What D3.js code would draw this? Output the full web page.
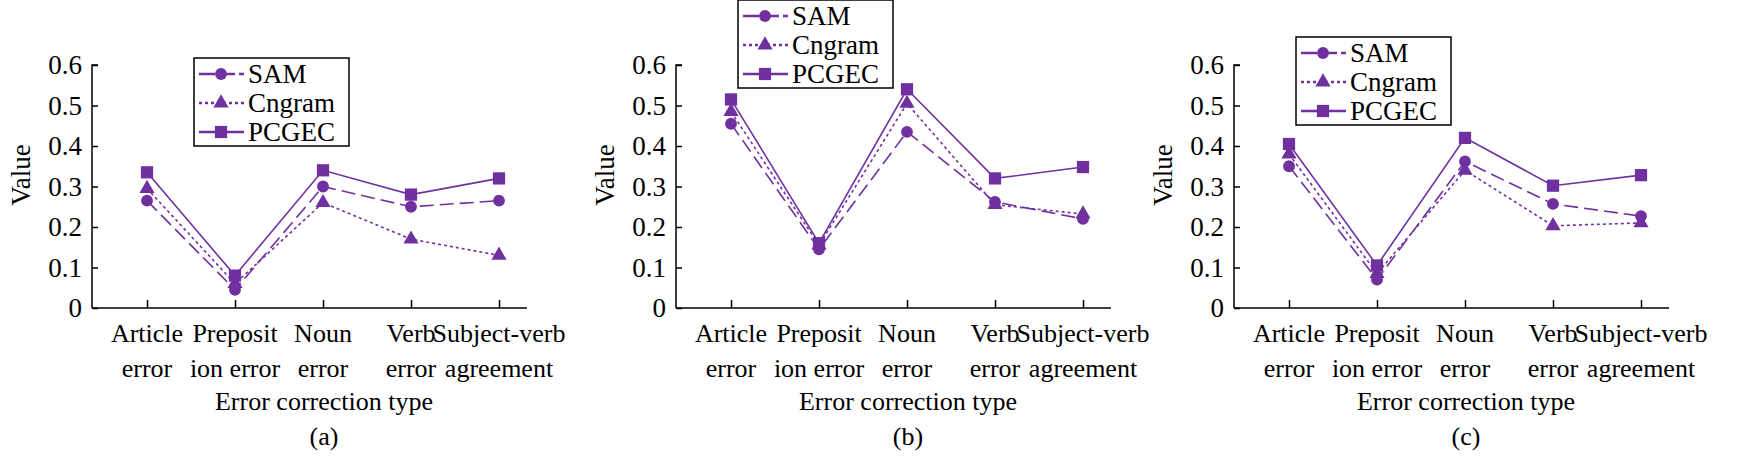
<!DOCTYPE html>
<html><head><meta charset="utf-8">
<script src="https://cdn.jsdelivr.net/npm/d3@7"></script>
<style>body{margin:0;background:#fff}text{font-family:"Liberation Serif","Times New Roman",serif;fill:#000}</style>
</head><body><svg width="1750" height="461"></svg>
<script>
// data
var categories = ['Article error', 'Preposition error', 'Noun error', 'Verb error', 'Subject-verb agreement'];
var catLines = [['Article', 'error'], ['Preposit', 'ion error'], ['Noun', 'error'], ['Verb', 'error'], ['Subject-verb', 'agreement']];
var series = ['SAM', 'Cngram', 'PCGEC'];
var yTicks = [0, 0.1, 0.2, 0.3, 0.4, 0.5, 0.6];
var panelNames = ['(a)', '(b)', '(c)'];

var samA = [0.265, 0.045, 0.30, 0.25, 0.265];
var cngramA = [0.295, 0.06, 0.26, 0.17, 0.13];
var pcgecA = [0.335, 0.08, 0.34, 0.28, 0.32];

var samB = [0.455, 0.145, 0.435, 0.262, 0.22];
var cngramB = [0.485, 0.155, 0.505, 0.255, 0.232];
var pcgecB = [0.515, 0.16, 0.54, 0.32, 0.348];

var samC = [0.35, 0.07, 0.362, 0.257, 0.227];
var cngramC = [0.38, 0.085, 0.34, 0.203, 0.21];
var pcgecC = [0.405, 0.105, 0.42, 0.302, 0.328];

var panels = [
 {name: panelNames[0], values: [samA, cngramA, pcgecA], left: 92, legend: {x: 102, y: 58}},
 {name: panelNames[1], values: [samB, cngramB, pcgecB], left: 676, legend: {x: 62, y: 0}},
 {name: panelNames[2], values: [samC, cngramC, pcgecC], left: 1234, legend: {x: 62, y: 37}}
];

var purple = '#7030a0';
var dashes = ['14,6', '3,3', null];
var symbols = [d3.symbolCircle, d3.symbolTriangle, d3.symbolSquare];
var symSizes = [110, 100, 150];

var svg = d3.select('svg');
var axisW = 435, plotTop = 65, plotBottom = 308;

var y = d3.scaleLinear().domain([0, 0.6]).range([plotBottom, plotTop]);

panels.forEach(function(p) {
 var g = svg.append('g').attr('transform', 'translate(' + p.left + ',0)');
 var x = d3.scalePoint().domain(categories).range([55, 407]);

 // y axis, ticks inside
 g.append('g')
  .call(d3.axisRight(y).tickValues(yTicks).tickSize(6).tickFormat(''))
  .call(function(s) { s.select('.domain').attr('d', 'M6,' + plotTop + 'H0V' + plotBottom); s.selectAll('line,path').attr('stroke', '#000').attr('stroke-width', 1.5); });
 g.selectAll('.ytl').data(yTicks).enter().append('text')
  .attr('x', -10).attr('y', function(d) { return y(d); }).attr('dy', '0.35em')
  .attr('text-anchor', 'end').style('font-size', '27px')
  .text(function(d) { return d === 0 ? '0' : d.toFixed(1); });

 // x axis, ticks pointing up
 g.append('g').attr('transform', 'translate(0,' + plotBottom + ')')
  .call(d3.axisTop(x).tickSize(8).tickFormat(''))
  .call(function(s) { s.select('.domain').attr('d', 'M0,0H' + axisW); s.selectAll('line,path').attr('stroke', '#000').attr('stroke-width', 1.5); });

 categories.forEach(function(c, i) {
  var t = g.append('text').attr('x', x(c)).attr('y', 342).attr('text-anchor', 'middle').style('font-size', '26px');
  t.append('tspan').attr('x', x(c)).text(catLines[i][0]);
  t.append('tspan').attr('x', x(c)).attr('dy', 35).text(catLines[i][1]);
 });

 g.append('text').attr('x', 232).attr('y', 410).attr('text-anchor', 'middle').style('font-size', '26px').text('Error correction type');
 g.append('text').attr('x', 232).attr('y', 445).attr('text-anchor', 'middle').style('font-size', '26px').text(p.name);
 g.append('text').attr('transform', 'translate(-62,' + 175 + ') rotate(-90)').attr('text-anchor', 'middle').style('font-size', '27px').text('Value');

 // series
 var line = d3.line().x(function(d, i) { return x(categories[i]); }).y(function(d) { return y(d); });
 p.values.forEach(function(vals, k) {
  g.append('path').datum(vals).attr('d', line).attr('fill', 'none').attr('stroke', purple)
   .attr('stroke-width', 1.6).attr('stroke-dasharray', dashes[k]);
  g.selectAll('.m' + k).data(vals).enter().append('path')
   .attr('transform', function(d, i) { return 'translate(' + x(categories[i]) + ',' + y(d) + ')'; })
   .attr('d', d3.symbol().type(symbols[k]).size(symSizes[k])).attr('fill', purple);
 });

 // legend
 var lg = g.append('g').attr('transform', 'translate(' + p.legend.x + ',' + p.legend.y + ')');
 lg.append('rect').attr('x', 0).attr('y', 0).attr('width', 155).attr('height', 88).attr('fill', '#fff').attr('stroke', '#000').attr('stroke-width', 1.5);
 series.forEach(function(s, k) {
  var yy = 16 + k * 29;
  lg.append('line').attr('x1', 5).attr('x2', 50).attr('y1', yy).attr('y2', yy).attr('stroke', purple).attr('stroke-width', 2.5).attr('stroke-dasharray', k === 0 ? '16,4' : dashes[k]);
  lg.append('path').attr('transform', 'translate(27,' + yy + ')').attr('d', d3.symbol().type(symbols[k]).size(symSizes[k])).attr('fill', purple);
  lg.append('text').attr('x', 54).attr('y', yy).attr('dy', '0.35em').style('font-size', '27px').text(s);
 });
});
</script></body></html>
